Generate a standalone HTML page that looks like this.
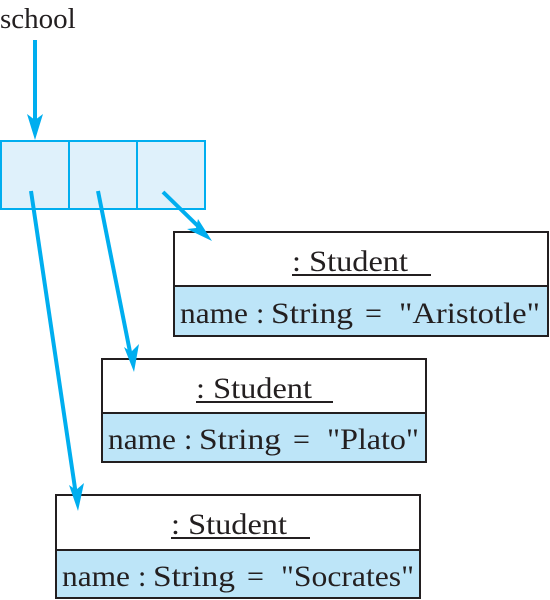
<!DOCTYPE html>
<html><head><style>body{margin:0;background:#fff}svg{display:block}</style></head><body>
<svg width="550" height="600" xmlns="http://www.w3.org/2000/svg" font-family="Liberation Serif, serif" fill="#231f20">
<text x="0" y="28" font-size="29">school</text>
<rect x="1" y="141" width="204" height="68" fill="#dff1fb" stroke="#00aeef" stroke-width="2"/>
<line x1="69" y1="141" x2="69" y2="209" stroke="#00aeef" stroke-width="2"/>
<line x1="137" y1="141" x2="137" y2="209" stroke="#00aeef" stroke-width="2"/>
<g stroke="#231f20" stroke-width="2">
<rect x="174" y="232" width="374" height="104" fill="#fff"/>
<rect x="174" y="286" width="374" height="50" fill="#bde5f8"/>
<rect x="102" y="359" width="324" height="103" fill="#fff"/>
<rect x="102" y="413" width="324" height="49" fill="#bde5f8"/>
<rect x="56" y="495" width="364" height="103" fill="#fff"/>
<rect x="56" y="550" width="364" height="48" fill="#bde5f8"/>
<line x1="292" y1="275" x2="431" y2="275"/>
<line x1="196" y1="402" x2="333" y2="402"/>
<line x1="171" y1="538" x2="310" y2="538"/>
</g>
<g stroke="#00aeef" stroke-width="4" fill="none">
<line x1="35" y1="40" x2="35" y2="125"/>
<line x1="31" y1="191" x2="76" y2="495"/>
<line x1="98" y1="191" x2="131" y2="357"/>
<line x1="163" y1="192" x2="202" y2="230"/>
</g>
<g fill="#00aeef">
<polygon points="35,140 27,114 35,120 43,114"/>
<polygon points="78,511 69,485 76,490 84,483"/>
<polygon points="134,372 124,347 131,352 139,344"/>
<polygon points="212,241 187,229 196,228 198,219"/>
</g>
<g font-size="30">
<text x="292" y="271" textLength="116" lengthAdjust="spacingAndGlyphs">: Student</text>
<text x="196" y="398" textLength="116" lengthAdjust="spacingAndGlyphs">: Student</text>
<text x="171" y="534" textLength="116" lengthAdjust="spacingAndGlyphs">: Student</text>

<text x="180" y="323" textLength="68" lengthAdjust="spacingAndGlyphs">name</text>
<text x="256" y="323">:</text>
<text x="271" y="323" textLength="82" lengthAdjust="spacingAndGlyphs">String</text>
<text x="365" y="323">=</text>
<text x="399" y="323" textLength="141" lengthAdjust="spacingAndGlyphs">"Aristotle"</text>

<text x="108" y="449" textLength="68" lengthAdjust="spacingAndGlyphs">name</text>
<text x="184" y="449">:</text>
<text x="199" y="449" textLength="82" lengthAdjust="spacingAndGlyphs">String</text>
<text x="293" y="449">=</text>
<text x="327" y="449" textLength="92" lengthAdjust="spacingAndGlyphs">"Plato"</text>

<text x="62" y="586" textLength="68" lengthAdjust="spacingAndGlyphs">name</text>
<text x="138" y="586">:</text>
<text x="153" y="586" textLength="82" lengthAdjust="spacingAndGlyphs">String</text>
<text x="247" y="586">=</text>
<text x="281" y="586" textLength="133" lengthAdjust="spacingAndGlyphs">"Socrates"</text>
</g>
</svg>
</body></html>
